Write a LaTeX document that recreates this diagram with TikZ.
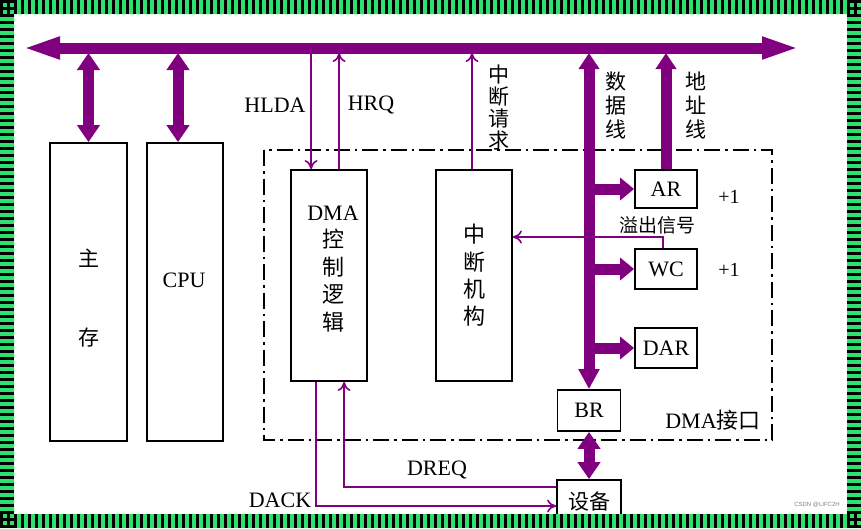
\documentclass[tikz,border=0pt]{standalone}
\usepackage{fontspec}
\setmainfont{Liberation Serif}
\setsansfont{Liberation Sans}
\newfontfamily\cjk{Noto Sans CJK SC}
\usetikzlibrary{arrows.meta,calc}
\definecolor{busc}{RGB}{128,0,128}
\definecolor{framec}{RGB}{46,224,110}

\begin{document}
\begin{tikzpicture}[x=1pt,y=1pt,yscale=-1,xscale=1,
  box/.style={draw, line width=1.8pt, inner sep=0pt},
  txt/.style={inner sep=0pt, font=\fontsize{22}{26}\selectfont},
  zh/.style={inner sep=0pt, align=center, font=\cjk\fontsize{21}{24}\selectfont},
  sig/.style={draw=busc, line width=1.6pt},
  sigtip/.style={-{Computer Modern Rightarrow[length=9pt,width=13pt]}},
  fat/.style={draw=busc, line width=11pt},
  bothhead/.style={{Triangle[width=22pt,length=17pt]}-{Triangle[width=22pt,length=17pt]}},
  onehead/.style={-{Triangle[width=22pt,length=14pt]}}]
\useasboundingbox (0,0) rectangle (861,528);

% DMA interface (dash-dot frame)
\draw [line width=1.8pt, dash pattern=on 16pt off 5pt on 2.5pt off 5pt] (264,150) rectangle (772,440);

% Bus coordinates
\coordinate (busL) at (22,48);
\coordinate (busR) at (800,48);
\coordinate (busbot) at (0,53);

%Shape: Rectangle [main memory]
\node [box, minimum width=77pt, minimum height=298pt] (mem) at (88.5,292) {};
%Shape: Rectangle [CPU]
\node [box, minimum width=76pt, minimum height=298pt] (cpu) at (185,292) {};
%Shape: Rectangle [DMA control logic]
\node [box, minimum width=76pt, minimum height=211pt] (dma) at (329,275.5) {};
%Shape: Rectangle [interrupt unit]
\node [box, zh, minimum width=76pt, minimum height=211pt, font=\cjk\fontsize{22}{27.3}\selectfont] (intr) at (474,275.5) {中\\断\\机\\构};
%Shape: Rectangle [registers]
\node [box, txt, minimum width=62pt, minimum height=38pt] (ar) at (666,189) {AR};
\node [box, txt, minimum width=62pt, minimum height=40pt] (wc) at (666,269) {WC};
\node [box, txt, minimum width=62pt, minimum height=40pt] (dar) at (666,348) {DAR};
\node [box, txt, minimum width=63pt, minimum height=41pt] (br) at (589,410.5) {BR};
%Shape: Rectangle [device]
\node [box, minimum width=64pt, minimum height=40pt] (dev) at (589,500) {};

% Text Node
\node [zh] (memA) at (89,258) {主};
% Text Node
\node [zh] (memB) at (89,338) {存};
% Text Node
\node [txt] (cpulbl) at (184,280) {CPU};
% Text Node
\node [zh, font=\cjk\fontsize{22}{27.5}\selectfont] (dmalbl) at (333,269) {{\rmfamily DMA}\\控\\制\\逻\\辑};
% Text Node
\node [zh, font=\cjk\fontsize{21}{24}\selectfont] (devlbl) at (589,502) {设备};

% Port coordinates
\coordinate (cpuport) at ($(cpu.north)+(-7,0)$);
\coordinate (hlda) at ($(dma.north west)+(21,0)$);
\coordinate (hrq) at ($(dma.north west)+(49,0)$);
\coordinate (irq) at ($(intr.north)+(-2,0)$);
\coordinate (ovf) at ($(wc.north)+(-3,0)$);
\coordinate (dreq) at ($(dma.south west)+(54,0)$);
\coordinate (dack) at ($(dma.south west)+(26,0)$);

%Straight Lines [control signals]
\draw [sig, sigtip] (hlda |- busbot) -- (hlda);
\draw [sig, sigtip] (hrq) -- (hrq |- busbot);
\draw [sig, sigtip] (irq) -- (irq |- busbot);
\draw [sig, sigtip] (ovf) |- ($(intr.east)+(0,-38.5)$);
\draw [sig, sigtip] ($(dev.west)+(0,-13)$) -| (dreq);
\draw [sig, sigtip] (dack) |- ($(dev.west)+(0,6)$);

%Straight Lines [system bus]
\draw [fat, {Triangle[width=20pt,length=38pt]}-{Triangle[width=20pt,length=38pt]}] (busL) -- (busR);
\draw [fat, bothhead] (mem.north |- busbot) -- (mem.north);
\draw [fat, bothhead] (cpuport |- busbot) -- (cpuport);
%Straight Lines [data and address lines]
\draw [fat, {Triangle[width=20pt,length=16pt]}-{Triangle[width=20pt,length=20pt]}] (br.north |- busbot) -- (br.north);
\draw [fat, -{Triangle[width=20pt,length=16pt]}] (ar.north) -- (ar.north |- busbot);
\draw [fat, onehead] (br.north |- ar.west) -- (ar.west);
\draw [fat, onehead] (br.north |- wc.west) -- (wc.west);
\draw [fat, onehead] (br.north |- dar.west) -- (dar.west);
\draw [fat, bothhead] (br.south) -- (dev.north);

% Text Node
\node [txt] (hldalbl) at (275,105) {HLDA};
% Text Node
\node [txt] (hrqlbl) at (371,105) {HRQ};
% Text Node
\node [zh, font=\cjk\fontsize{21}{22}\selectfont] (irqlbl) at (499,108) {中\\断\\请\\求};
% Text Node
\node [zh] (datalbl) at (616,105) {数\\据\\线};
% Text Node
\node [zh] (addrlbl) at (696,105) {地\\址\\线};
% Text Node
\node [txt, font=\fontsize{20}{24}\selectfont] (incA) at (729,197) {+1};
% Text Node
\node [txt, font=\fontsize{20}{24}\selectfont] (incB) at (729,270) {+1};
% Text Node
\node [zh, font=\cjk\fontsize{19}{22}\selectfont] (ovflbl) at (657,225) {溢出信号};
% Text Node
\node [txt] (ifclbl) at (713,420) {DMA{\cjk 接口}};
% Text Node
\node [txt] (dreqlbl) at (437,470) {DREQ};
% Text Node
\node [txt] (dacklbl) at (280,500) {DACK};
% Text Node
\node [inner sep=0pt, text=gray, font=\sffamily\fontsize{6}{7}\selectfont] (wm) at (817,505) {CSDN @LIFC2H};

% Frame
\fill [framec, even odd rule] (0,0) rectangle (861,528) (14,14) rectangle (847,514);
\draw [line width=14pt, dash pattern=on 3pt off 4pt] (0,7) -- (861,7);
\draw [line width=14pt, dash pattern=on 3pt off 4pt] (0,521) -- (861,521);
\draw [line width=14pt, dash pattern=on 3pt off 4pt] (7,0) -- (7,528);
\draw [line width=14pt, dash pattern=on 3pt off 4pt] (854,0) -- (854,528);

\end{tikzpicture}
\end{document}
